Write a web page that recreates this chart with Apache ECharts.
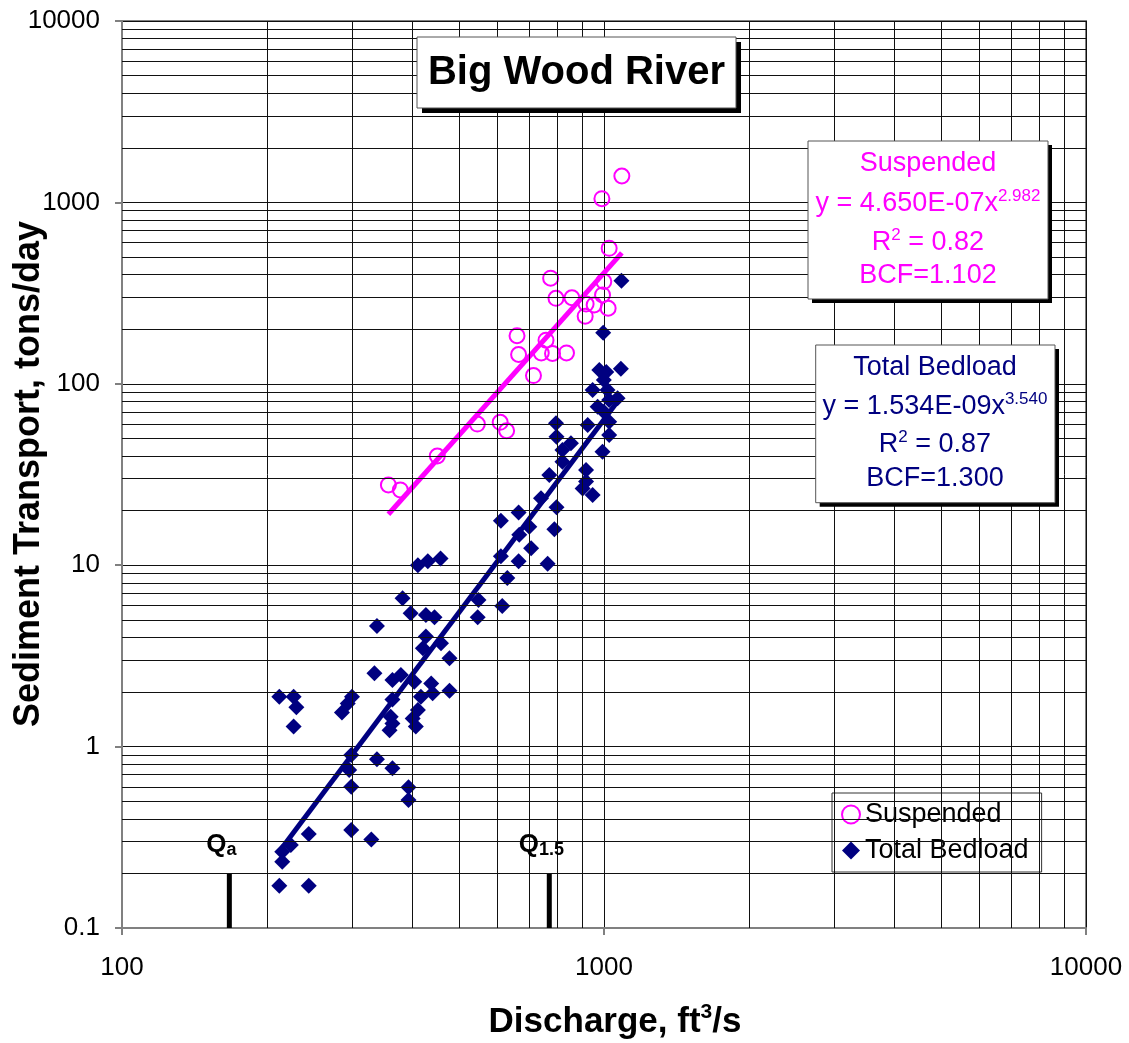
<!DOCTYPE html>
<html><head><meta charset="utf-8">
<script src="https://cdn.jsdelivr.net/npm/echarts@6/dist/echarts.min.js"></script>
<style>html,body{margin:0;padding:0;background:#fff}#c{width:1129px;height:1043px}</style>
</head><body><div id="c"></div>
<script>
// ---- data (discharge ft3/s, sediment tons/day) ----
const suspended = [
  [357,27.7],[378,26.0],[451,40.0],[546,60.0],[609,61.3],[628,55.1],
  [660,184],[665,145],[714,111],[741,148],[758,174],[775,382],[782,147],
  [795,296],[836,148],[858,298],[914,236],[918,275],[954,272],[993,309],
  [1020,261],[999,366],[990,1048],[1025,558],[1089,1398]
];
const bedload = [
  [212,0.171],[244,0.171],[215,0.232],[215,0.263],[224,0.287],[244,0.330],
  [299,0.347],[329,0.308],[299,0.601],[296,0.743],[299,0.899],[338,0.851],
  [364,0.759],[393,0.596],[393,0.508],
  [212,1.88],[227,1.88],[230,1.65],[227,1.29],[300,1.88],[294,1.73],[286,1.54],
  [334,2.54],[364,2.33],[379,2.48],[364,1.82],[361,1.46],[364,1.34],[359,1.23],
  [404,2.28],[438,2.23],[441,1.97],[417,1.88],[478,2.03],[411,1.59],[401,1.43],[407,1.29],
  [411,10.0],[431,10.5],[458,10.9],[382,6.57],[397,5.43],[427,5.31],[445,5.16],
  [338,4.62],[427,4.04],[459,3.71],[421,3.48],[478,3.07],
  [549,6.43],[547,5.16],[630,8.5],[615,5.96],[611,11.2],
  [795,60.6],[797,51.1],[925,59.3],[854,47.0],[820,43.2],[993,42.2],[1025,52.2],
  [820,37.2],[918,33.5],[770,31.4],[918,28.9],[947,24.4],[903,26.5],[740,23.4],
  [797,20.9],[665,19.5],[611,17.6],[700,16.3],[789,15.8],[667,14.7],[706,12.4],
  [665,10.5],[764,10.2],
  [1087,370],[996,191],[978,119],[1011,116],[1084,121],[947,92.4],[999,105],
  [1017,92.4],[1025,81.4],[1067,83.2],[970,74.8],[999,70.2],[1025,61.8]
];
const suspendedTrend = [[357,19.1],[1089,527]];
const bedloadTrend = [[212,0.264],[1089,86]];
const qaBar = [[167,0.1],[167,0.2]];
const q15Bar = [[770,0.1],[770,0.2]];
const qLabels = ['a','1.5'];
const xMinorTicks = [200,300,400,500,600,700,800,900,2000,3000,4000,5000,6000,7000,8000,9000];
const yMinorTicks = [0.2,0.3,0.4,0.5,0.6,0.7,0.8,0.9,2,3,4,5,6,7,8,9,20,30,40,50,60,70,80,90,
  200,300,400,500,600,700,800,900,2000,3000,4000,5000,6000,7000,8000,9000];

const MAG = '#FF00FF', NAVY = '#000080';
const FF = '"Liberation Sans", Arial, sans-serif';

const chart = echarts.init(document.getElementById('c'), null, {renderer:'canvas'});

function boxTexts(cx, lines, color, ys) {
  return lines.map((t, i) => ({
    type:'text', x: cx, y: ys[i], z: 52,
    style:{
      text: t, align:'center', verticalAlign:'middle', textAlign:'center', textVerticalAlign:'middle',
      rich:{
        b:{fontSize:27, fontFamily:FF, fill:color, color:color, lineHeight:32},
        sup:{fontSize:17, fontFamily:FF, fill:color, color:color, lineHeight:12, verticalAlign:'top'}
      }
    }
  }));
}
function shadowBox(x, y, w, h, off) {
  return [
    {type:'rect', z:50, shape:{x:x+off, y:y+off, width:w, height:h}, style:{fill:'#000'}},
    {type:'rect', z:51, shape:{x:x, y:y, width:w, height:h}, style:{fill:'#fff', stroke:'#555', lineWidth:1}}
  ];
}

const graphics = [].concat(
  shadowBox(417, 37, 319, 71, 5),
  [{type:'text', x:576.5, y:72.5, z:52, style:{text:'Big Wood River', font:'bold 40px '+FF, fill:'#000',
    align:'center', verticalAlign:'middle', textAlign:'center', textVerticalAlign:'middle'}}],
  shadowBox(808, 141, 240, 158, 4),
  boxTexts(928, ['{b|Suspended}', '{b|y = 4.650E-07x}{sup|2.982}', '{b|R}{sup|2}{b| = 0.82}', '{b|BCF=1.102}'], MAG, [164, 204, 242.5, 275.5]),
  shadowBox(815.7, 345, 239.3, 157.7, 4),
  boxTexts(935, ['{b|Total Bedload}', '{b|y = 1.534E-09x}{sup|3.540}', '{b|R}{sup|2}{b| = 0.87}', '{b|BCF=1.300}'], NAVY, [367.5, 407, 444.5, 479]),
  [
    {type:'text', x:29, y:474, rotation:Math.PI/2, z:52, style:{text:'Sediment Transport, tons/day', font:'bold 36px '+FF, fill:'#000',
      align:'center', verticalAlign:'middle', textAlign:'center', textVerticalAlign:'middle'}},
    {type:'text', x:615, y:1022, z:52, style:{text:'{b|Discharge, ft}{sup|3}{b|/s}',
      align:'center', verticalAlign:'middle', textAlign:'center', textVerticalAlign:'middle',
      rich:{b:{fontSize:35, fontWeight:'bold', fontFamily:FF, fill:'#000', lineHeight:40},
            sup:{fontSize:21, fontWeight:'bold', fontFamily:FF, fill:'#000', lineHeight:14, verticalAlign:'top'}}}}
  ]
);

const gridLineStyle = {type:'solid', color:'#111', width:1};
const qRich = {
  q:{fontSize:26, fontWeight:'bold', fontFamily:FF, color:'#000', lineHeight:28},
  s:{fontSize:18, fontWeight:'bold', fontFamily:FF, color:'#000', lineHeight:16, verticalAlign:'bottom'}
};

chart.setOption({
  animation:false,
  backgroundColor:'#fff',
  grid:{left:122, top:21, right:43, bottom:115, show:true, borderColor:'#808080', borderWidth:2, backgroundColor:'#fff'},
  xAxis:{
    type:'log', logBase:10, min:100, max:10000,
    axisLine:{show:true, lineStyle:{color:'#808080', width:2}},
    axisTick:{show:true, inside:false, length:7, lineStyle:{color:'#808080', width:2}},
    axisLabel:{fontSize:26, fontFamily:FF, color:'#000', margin:27, formatter:v=>String(+(+v).toPrecision(6))},
    splitLine:{show:true, lineStyle:gridLineStyle},
    minorTick:{show:false}, minorSplitLine:{show:false}
  },
  yAxis:{
    type:'log', logBase:10, min:0.1, max:10000,
    axisLine:{show:true, lineStyle:{color:'#808080', width:2}},
    axisTick:{show:true, inside:false, length:7, lineStyle:{color:'#808080', width:2}},
    axisLabel:{fontSize:26, fontFamily:FF, color:'#000', margin:22, formatter:v=>String(+(+v).toPrecision(6))},
    splitLine:{show:true, lineStyle:gridLineStyle},
    minorTick:{show:false}, minorSplitLine:{show:false}
  },
  legend:{
    left:832, top:793, orient:'vertical', padding:[8,13,8,9], itemGap:9,
    backgroundColor:'#fff', borderColor:'#333', borderWidth:1,
    itemWidth:18, itemHeight:18,
    textStyle:{fontSize:27, fontFamily:FF, color:'#000'},
    data:[
      {name:'Suspended', icon:'circle', itemStyle:{color:'rgba(0,0,0,0)', borderColor:MAG, borderWidth:2, opacity:1}},
      {name:'Total Bedload', icon:'diamond', itemStyle:{color:NAVY, opacity:1}}
    ]
  },
  graphic: graphics,
  series:[
    {
      name:'grid', type:'line', data:[], silent:true, z:1,
      markLine:{
        silent:true, symbol:['none','none'], label:{show:false}, lineStyle:gridLineStyle, animation:false,
        emphasis:{disabled:true},
        data: xMinorTicks.map(v=>({xAxis:v})).concat(yMinorTicks.map(v=>({yAxis:v})))
      }
    },
    {
      name:'Total Bedload', type:'scatter', data:bedload, symbol:'diamond', symbolSize:16, z:3,
      itemStyle:{color:NAVY, opacity:1}
    },
    {
      name:'Suspended', type:'scatter', data:suspended, symbol:'circle', symbolSize:15, z:3,
      itemStyle:{color:'rgba(0,0,0,0)', borderColor:MAG, borderWidth:2, opacity:1}
    },
    {
      name:'Suspended trend', type:'line', data:suspendedTrend, showSymbol:false, symbol:'none', z:4,
      lineStyle:{color:MAG, width:5}
    },
    {
      name:'Bedload trend', type:'line', data:bedloadTrend, showSymbol:false, symbol:'none', z:4,
      lineStyle:{color:NAVY, width:5}
    },
    { name:'Qa', type:'line', symbol:'none', z:4, lineStyle:{color:'#000', width:5}, data:qaBar },
    { name:'Q1.5', type:'line', symbol:'none', z:4, lineStyle:{color:'#000', width:5}, data:q15Bar },
    {
      name:'Q labels', type:'scatter', symbol:'circle', symbolSize:1, z:5, silent:true,
      itemStyle:{color:'rgba(0,0,0,0)', opacity:1},
      data:[qaBar[1], q15Bar[1]].map((p, i) => ({
        value:p,
        label:{show:true, position:'top', distance:14, offset:[-8,0], color:'#000', opacity:1,
          formatter:'{q|Q}{s|' + qLabels[i] + '}', rich:qRich}
      }))
    }
  ]
});
</script></body></html>
